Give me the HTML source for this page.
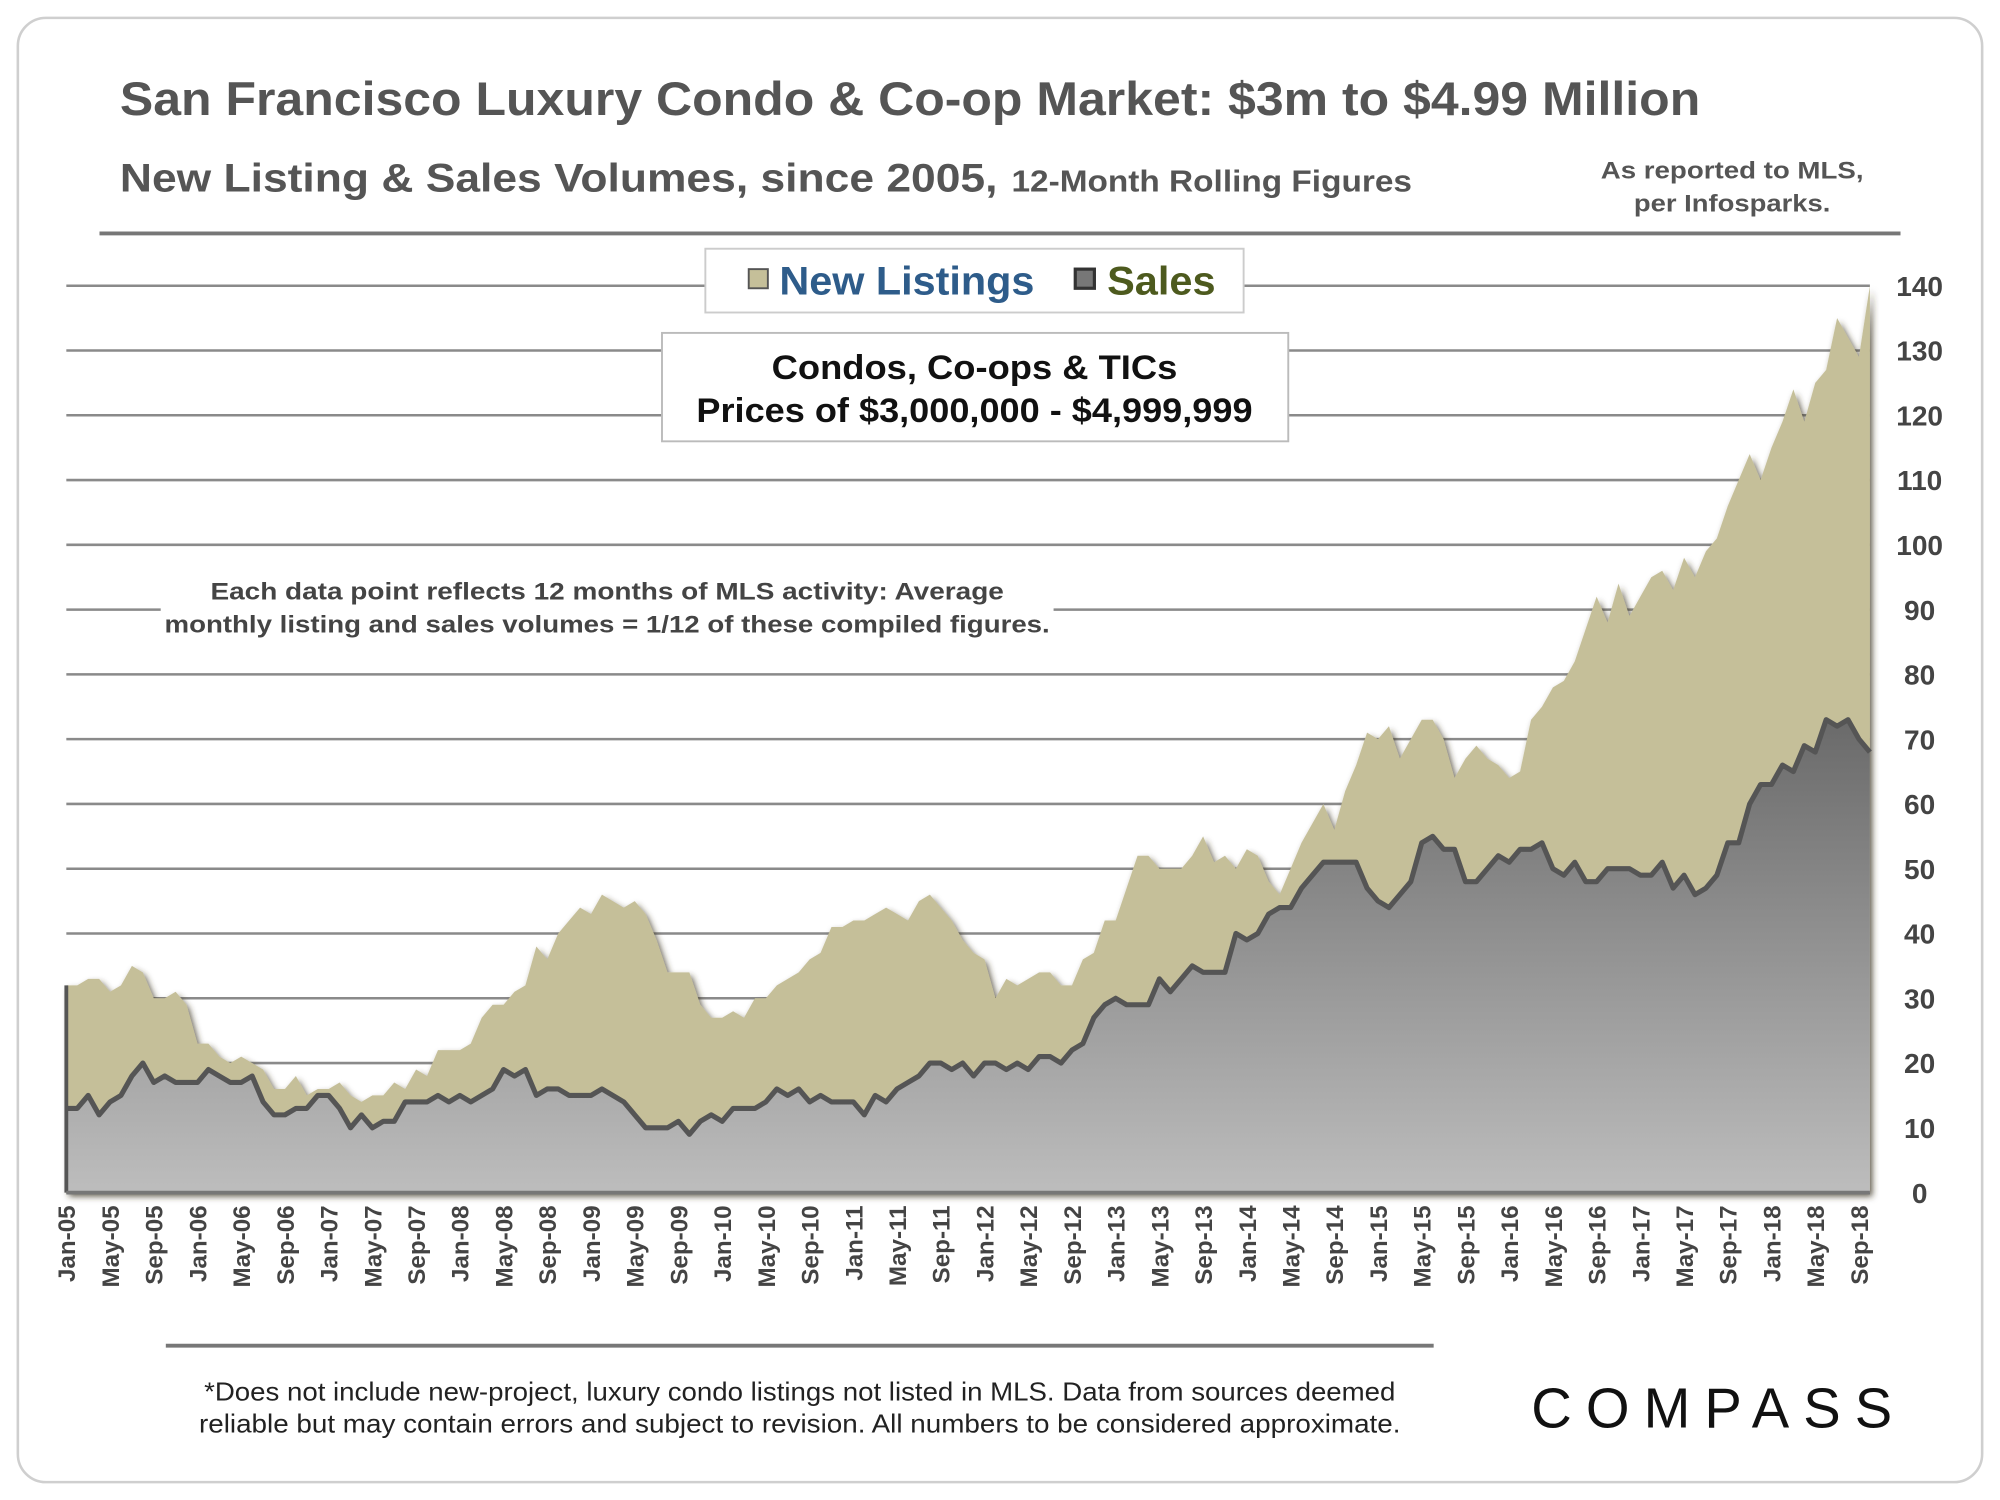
<!DOCTYPE html>
<html><head><meta charset="utf-8"><style>
html,body{margin:0;padding:0;background:#fff}
svg{display:block;font-family:"Liberation Sans",Arial,sans-serif}
</style></head><body>
<svg id="chart" width="2000" height="1500" viewBox="0 0 1568 1176" xmlns="http://www.w3.org/2000/svg">
<defs>
<linearGradient id="gSales" x1="0" y1="0" x2="0" y2="1"><stop offset="0" stop-color="#6a6a6a"/><stop offset="1" stop-color="#bdbdbd"/></linearGradient>
<filter id="sh" x="-5%" y="-5%" width="110%" height="110%"><feDropShadow dx="2" dy="3" stdDeviation="2.5" flood-color="#3a3520" flood-opacity="0.8"/></filter>
</defs>
<rect x="14" y="14" width="1540" height="1148" rx="22" fill="#fff" stroke="#cfcfcf" stroke-width="2"/>
<text x="94" y="90" font-size="37" font-weight="bold" fill="#555" textLength="1239" lengthAdjust="spacingAndGlyphs">San Francisco Luxury Condo &amp; Co-op Market: $3m to $4.99 Million</text>
<text x="94" y="150" font-size="31" font-weight="bold" fill="#555" textLength="688" lengthAdjust="spacingAndGlyphs">New Listing &amp; Sales Volumes, since 2005,</text>
<text x="793" y="150" font-size="24" font-weight="bold" fill="#555" textLength="314" lengthAdjust="spacingAndGlyphs">12-Month Rolling Figures</text>
<text x="1358" y="140" font-size="19" font-weight="bold" fill="#555" text-anchor="middle" textLength="206" lengthAdjust="spacingAndGlyphs">As reported to MLS,</text>
<text x="1358" y="166" font-size="19" font-weight="bold" fill="#555" text-anchor="middle" textLength="154" lengthAdjust="spacingAndGlyphs">per Infosparks.</text>
<line x1="78" y1="183" x2="1490" y2="183" stroke="#777" stroke-width="3"/>
<g id="grid"></g>
<g id="areas"></g>
<g id="yticks"></g>
<g id="xticks"></g>
<g>
<rect x="553" y="195" width="422" height="50" fill="#fff" stroke="#ccc" stroke-width="1.5"/>
<rect x="587" y="211" width="15" height="15" fill="#c5bf99" stroke="#555" stroke-width="1.5"/>
<text x="611" y="231" font-size="31" font-weight="bold" fill="#2e5c8a" textLength="200" lengthAdjust="spacingAndGlyphs">New Listings</text>
<rect x="843" y="211" width="15" height="15" fill="#777" stroke="#333" stroke-width="2.5"/>
<text x="868" y="231" font-size="31" font-weight="bold" fill="#4d5a1e" textLength="85" lengthAdjust="spacingAndGlyphs">Sales</text>
</g>
<g>
<rect x="519" y="261" width="491" height="85" fill="#fff" stroke="#bbb" stroke-width="1.5"/>
<text x="764" y="297" font-size="27" font-weight="bold" fill="#111" text-anchor="middle" textLength="318" lengthAdjust="spacingAndGlyphs">Condos, Co-ops &amp; TICs</text>
<text x="764" y="331" font-size="27" font-weight="bold" fill="#111" text-anchor="middle" textLength="436" lengthAdjust="spacingAndGlyphs">Prices of $3,000,000 - $4,999,999</text>
</g>
<g font-size="19" font-weight="bold" fill="#444" text-anchor="middle">
<rect x="126" y="452" width="700" height="46" fill="#fff"/>
<text x="476" y="470" textLength="622" lengthAdjust="spacingAndGlyphs">Each data point reflects 12 months of MLS activity:  Average</text>
<text x="476" y="496" textLength="694" lengthAdjust="spacingAndGlyphs">monthly listing and sales volumes = 1/12 of these compiled figures.</text>
</g>
<line x1="130" y1="1055" x2="1124" y2="1055" stroke="#777" stroke-width="3"/>
<text x="627" y="1098" font-size="20" fill="#222" text-anchor="middle" textLength="934" lengthAdjust="spacingAndGlyphs">*Does not include new-project, luxury condo listings not listed in MLS. Data from sources deemed</text>
<text x="627" y="1123" font-size="20" fill="#222" text-anchor="middle" textLength="942" lengthAdjust="spacingAndGlyphs">reliable but may contain errors and subject to revision.  All numbers to be considered approximate.</text>
<text x="1342" y="1119" font-size="44" fill="#111" text-anchor="middle" textLength="283" lengthAdjust="spacing">COMPASS</text>
</svg>
<script>
const yTicks=[0,10,20,30,40,50,60,70,80,90,100,110,120,130,140];
const xLabels=["Jan-05","May-05","Sep-05","Jan-06","May-06","Sep-06","Jan-07","May-07","Sep-07","Jan-08","May-08","Sep-08","Jan-09","May-09","Sep-09","Jan-10","May-10","Sep-10","Jan-11","May-11","Sep-11","Jan-12","May-12","Sep-12","Jan-13","May-13","Sep-13","Jan-14","May-14","Sep-14","Jan-15","May-15","Sep-15","Jan-16","May-16","Sep-16","Jan-17","May-17","Sep-17","Jan-18","May-18","Sep-18"];
const listings=[32,32,33,33,31,32,35,34,30,30,31,29,
23,23,21,20,21,20,19,16,16,18,15,16,
16,17,15,14,15,15,17,16,19,18,22,22,
22,23,27,29,29,31,32,38,36,40,42,44,
43,46,45,44,45,43,39,34,34,34,29,27,
27,28,27,30,30,32,33,34,36,37,41,41,
42,42,43,44,43,42,45,46,44,42,39,37,
36,30,33,32,33,34,34,32,32,36,37,42,
42,47,52,52,50,50,50,52,55,51,52,50,
53,52,48,46,50,54,57,60,56,62,66,71,
70,72,67,70,73,73,70,64,67,69,67,66,
64,65,73,75,78,79,82,87,92,88,94,89,
92,95,96,93,98,95,99,101,106,110,114,110,
115,119,124,119,125,127,135,132,129,140];
const sales=[13,13,15,12,14,15,18,20,17,18,17,17,
17,19,18,17,17,18,14,12,12,13,13,15,
15,13,10,12,10,11,11,14,14,14,15,14,
15,14,15,16,19,18,19,15,16,16,15,15,
15,16,15,14,12,10,10,10,11,9,11,12,
11,13,13,13,14,16,15,16,14,15,14,14,
14,12,15,14,16,17,18,20,20,19,20,18,
20,20,19,20,19,21,21,20,22,23,27,29,
30,29,29,29,33,31,33,35,34,34,34,40,
39,40,43,44,44,47,49,51,51,51,51,47,
45,44,46,48,54,55,53,53,48,48,50,52,
51,53,53,54,50,49,51,48,48,50,50,50,
49,49,51,47,49,46,47,49,54,54,60,63,
63,66,65,69,68,73,72,73,70,68];
const NS="http://www.w3.org/2000/svg";
const X0=52,X1=1466,Y0=935,Y1=224;
const n=listings.length;
function xS(i){return X0+(X1-X0)*i/(n-1);}
function yS(v){return Y0-(Y0-Y1)*v/140;}
function mk(tag,attrs,parent){const e=document.createElementNS(NS,tag);for(const k in attrs)e.setAttribute(k,attrs[k]);parent.appendChild(e);return e;}
const grid=document.getElementById('grid'),areas=document.getElementById('areas'),yt=document.getElementById('yticks'),xt=document.getElementById('xticks');
yTicks.forEach(v=>{
 const l=mk('line',{x1:X0,x2:X1,y1:yS(v),y2:yS(v),stroke:'#8a8a8a','stroke-width':2},grid);
 
 
 const t=mk('text',{x:1505,y:yS(v)+8,'font-size':22,'font-weight':'bold',fill:'#444','text-anchor':'middle'},yt);
 t.textContent=v;
 
 
});
function areaPath(arr){let d='M'+xS(0)+','+Y0;arr.forEach((v,i)=>{d+=' L'+xS(i).toFixed(2)+','+yS(v).toFixed(2);});d+=' L'+xS(n-1)+','+Y0+' Z';return d;}
function linePath(arr){return arr.map((v,i)=>(i?'L':'M')+xS(i).toFixed(2)+','+yS(v).toFixed(2)).join(' ');}
const la=mk('path',{d:areaPath(listings),fill:'#c5bf99',filter:'url(#sh)'},areas);


const sa=mk('path',{d:areaPath(sales),fill:'url(#gSales)'},areas);


const sl=mk('path',{d:linePath(sales),fill:'none',stroke:'#555','stroke-width':4,'stroke-linejoin':'round'},areas);


const ax=mk('line',{x1:X0,x2:X0,y1:yS(listings[0]),y2:Y0,stroke:'#555','stroke-width':3},areas);


const xa=mk('line',{x1:X0,x2:X1,y1:Y0,y2:Y0,stroke:'#777','stroke-width':3},areas);


xLabels.forEach((lab,k)=>{
 const x=xS(k*4)+7;
 const t=mk('text',{x:x,y:945,'font-size':19,'font-weight':'bold',fill:'#444','text-anchor':'end',transform:'rotate(-90 '+x+' 945)'},xt);
 t.textContent=lab;
 
 
});
</script>
</body></html>
